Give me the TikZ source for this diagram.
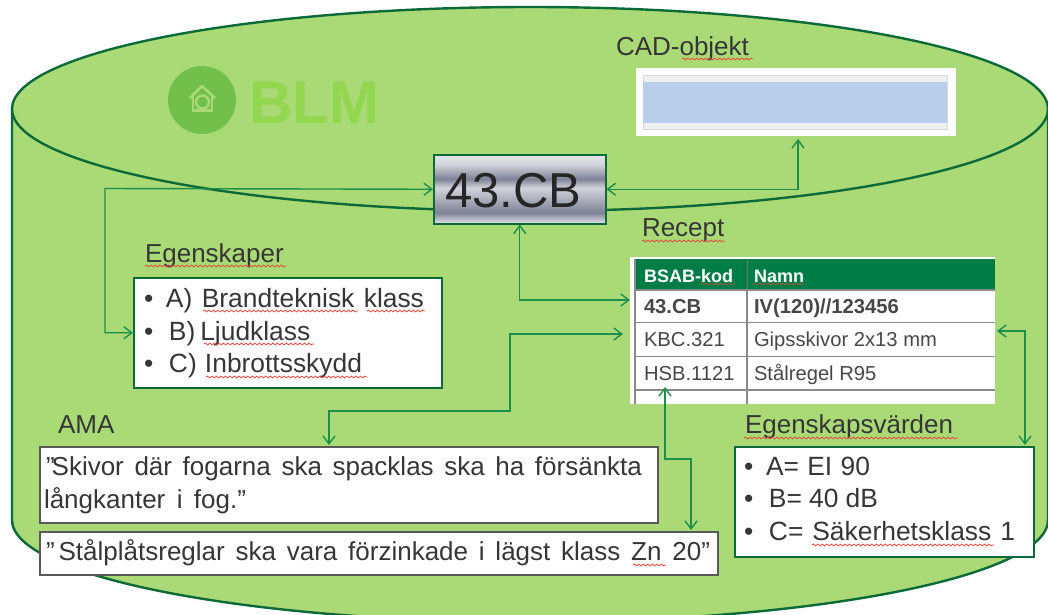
\documentclass[tikz,border=0pt]{standalone}
\usepackage{fontspec}
\setmainfont{Liberation Sans}
\usetikzlibrary{arrows.meta,decorations.pathmorphing}
\definecolor{cylfill}{HTML}{A9DA76}
\definecolor{cylline}{HTML}{0B6A38}
\definecolor{conn}{HTML}{1C8F4A}
\definecolor{txtc}{HTML}{363636}
\definecolor{headg}{HTML}{007D46}
\definecolor{gridc}{HTML}{8A8A8A}
\definecolor{cadblue}{HTML}{B8CEEA}
\definecolor{cadgray}{HTML}{EFEFEF}
\definecolor{cadline}{HTML}{D9D9D9}
\definecolor{logoc}{HTML}{72BF4B}
\definecolor{logot}{HTML}{93D64F}
\definecolor{housec}{HTML}{A9DA76}
\definecolor{wavec}{HTML}{E5483C}
\definecolor{mlight}{HTML}{E4E5E8}
\definecolor{mdark}{HTML}{7E8296}
\definecolor{mmid}{HTML}{D2D4DA}
\pgfdeclareverticalshading{metal}{100bp}{
  color(0bp)=(mlight);
  color(25bp)=(mlight);
  color(33bp)=(mdark);
  color(51bp)=(mmid);
  color(57.5bp)=(mdark);
  color(68bp)=(mmid);
  color(75bp)=(mlight);
  color(100bp)=(mlight)}
\newcommand\fs[1]{\fontsize{#1}{#1}\selectfont}
\newcommand\tline[2]{\makebox[#1pt][s]{#2}}
\tikzset{
  txt/.style={anchor=base west,inner sep=0pt,outer sep=0pt,text=txtc},
  lbl/.style={txt,font=\fs{26}},
  body/.style={txt,font=\fs{26.4}},
  quote/.style={txt,font=\fs{26}},
  tsmall/.style={txt,text=black!72,font=\fs{20.2}},
  head/.style={anchor=base west,inner sep=0pt,text=white,font=\fs{18}\bfseries},
  greenbox/.style={draw=cylline,line width=1.5pt,fill=white,anchor=north west,inner sep=0pt},
  graybox/.style={draw=black!65,line width=1.5pt,fill=white,anchor=north west,inner sep=0pt},
  link/.style={draw=conn,line width=1.4pt,{Straight Barb[length=8pt,width=12pt]}-{Straight Barb[length=8pt,width=12pt]}},
  wave/.style={draw=wavec,line width=.8pt,decorate,decoration={snake,segment length=4.5pt,amplitude=.9pt}},
  tgrid/.style={draw=gridc,line width=1.2pt}
}
\begin{document}
\begin{tikzpicture}[x=1pt,y=-1pt]
\useasboundingbox (0,0) rectangle (1048,614);
\clip (0,0) rectangle (1048,614);
% cylinder
\path[fill=cylfill,draw=cylline,line width=2.4pt]
  (12,108) -- (12,520) .. controls (12,576) and (246,622) .. (530,622)
  .. controls (814,622) and (1048,576) .. (1048,520) -- (1048,108) -- cycle;
\path[fill=cylfill,draw=cylline,line width=2.4pt]
  (12,109) .. controls (12,53) and (244,7) .. (530,7)
  .. controls (816,7) and (1048,53) .. (1048,109)
  .. controls (1048,165) and (816,211) .. (530,211)
  .. controls (244,211) and (12,165) .. (12,109) -- cycle;
% logo
\node[circle,fill=logoc,minimum size=68pt,inner sep=0pt] (logo) at (202,100) {};
\draw[draw=housec,line width=2.5pt,line join=round] (190,98) -- (202,86) -- (215,98);
\draw[draw=housec,line width=2.5pt] (193,95) -- (193,110.5) -- (212,110.5) -- (212,95);
\draw[draw=housec,line width=2.5pt] (202.5,102) circle[radius=6.5pt];
\node[anchor=base west,inner sep=0pt,font=\fs{60}\bfseries,text=logot] (blm) at (249,123) {BLM};
% labels
\node[lbl] (lcad) at (616,55) {CAD-objekt};
\node[lbl] (lrec) at (642,236) {Recept};
\node[lbl] (legs) at (145,262) {Egenskaper};
\node[lbl] (lama) at (58,433) {AMA};
\node[lbl] (lvar) at (745,433) {Egenskapsvärden};
% CAD object
\node[fill=white,anchor=north west,minimum width=320pt,minimum height=68pt,inner sep=0pt] (cad) at (636,68) {};
\path[fill=cadgray,draw=cadline,line width=.8pt] (643,75) rectangle (947,129);
\path[fill=cadblue] (643,82) rectangle (947,123);
% central code box
\node[anchor=north west,minimum width=172pt,minimum height=69pt,inner sep=0pt,draw=cylline,line width=1.5pt,shading=metal] (code) at (433,154) {};
\node[anchor=base west,inner sep=0pt,font=\fs{49},text=black!85] (codet) at (445,207) {43.CB};
% egenskaper box
\node[greenbox,minimum width=308pt,minimum height=110pt] (egs) at (133,277) {};
\node[body] (e1) at (144,307) {\makebox[22pt][l]{•}\tline{258}{A) Brandteknisk klass}};
\node[body] (e2) at (144,340) {\makebox[25pt][l]{•}\tline{141}{B) Ljudklass}};
\node[body] (e3) at (144,372) {\makebox[25pt][l]{•}\tline{193}{C) Inbrottsskydd}};
% AMA boxes
\node[graybox,minimum width=618pt,minimum height=76pt] (ama1) at (39,446) {};
\node[quote] (a1) at (46,475) {\tline{596}{”\kern-3pt Skivor där fogarna ska spacklas ska ha försänkta}};
\node[quote] (a2) at (44,508) {\tline{202}{långkanter i fog.”}};
\node[graybox,minimum width=678pt,minimum height=43pt] (ama2) at (39,531) {};
\node[quote] (a3) at (46,560) {\tline{664}{”\kern4pt Stålplåtsreglar ska vara förzinkade i lägst klass Zn 20”}};
% values box
\node[greenbox,minimum width=299pt,minimum height=110pt] (var) at (734,446) {};
\node[body] (v1) at (744,475) {\makebox[22pt][l]{•}\tline{104}{A= EI 90}};
\node[body] (v2) at (744,507) {\makebox[25pt][l]{•}\tline{109}{B= 40 dB}};
\node[body] (v3) at (744,540) {\makebox[25pt][l]{•}\tline{246}{C= Säkerhetsklass 1}};
% table
\node[fill=white,anchor=north west,minimum width=365pt,minimum height=147pt,inner sep=0pt] (tab) at (630,257) {};
\path[fill=headg] (635,259) rectangle (995,290);
\draw[tgrid] (635,259) -- (635,404);
\draw[draw=black!55,line width=1pt] (747,259) -- (747,290);
\draw[tgrid] (747,290) -- (747,404);
\draw[tgrid] (635,290) -- (995,290);
\draw[tgrid] (635,322.5) -- (995,322.5);
\draw[tgrid] (635,356.5) -- (995,356.5);
\draw[tgrid] (635,390) -- (995,390);
\node[head] (h1) at (644,282) {BSAB-kod};
\node[head] (h2) at (754,282) {Namn};
\node[tsmall,font=\fs{20.2}\bfseries] (c1) at (644,313) {43.CB};
\node[tsmall,font=\fs{20.2}\bfseries] (d1) at (754,313) {IV(120)//123456};
\node[tsmall] (c2) at (644,346) {KBC.321};
\node[tsmall] (d2) at (754,346) {Gipsskivor 2x13 mm};
\node[tsmall] (c3) at (644,380) {HSB.1121};
\node[tsmall] (d3) at (754,380) {Stålregel R95};
% spelling marks
\draw[wave] (145,266) -- (286,266);
\draw[wave] (682,59) -- (753,59);
\draw[wave] (642,241) -- (725,241);
\draw[wave] (203,311) -- (358,311);
\draw[wave] (367,311) -- (425,311);
\draw[wave] (204,344) -- (314,344);
\draw[wave] (206,377) -- (367,377);
\draw[wave] (633,565) -- (666,565);
\draw[wave] (744,438) -- (958,438);
\draw[wave] (812,545) -- (994,545);
\draw[wave,line width=.5pt] (701,284) -- (734,284);
\draw[wave,line width=.5pt] (754,284) -- (804,284);
% connector end points
\coordinate (cadend) at (798,139);
\coordinate (recin) at (630,300);
\coordinate (amaup) at (623,334);
\coordinate (hsb) at (665,387);
\coordinate (ama2top) at (691,530);
\coordinate (amatop) at (329,445);
\coordinate (gips) at (997,331);
\coordinate (vartop) at (1025,445);
% connectors
\draw[link] (code.west) -- (105,188.5) |- (egs.west);
\draw[link] (code.east) -| (cadend);
\draw[link] (code.south) |- (recin);
\draw[link] (amaup) -- (510,334) -- (510,411) -| (amatop);
\draw[link] (hsb) -- (665,459) -| (ama2top);
\draw[link] (gips) -| (vartop);
\end{tikzpicture}
\end{document}
